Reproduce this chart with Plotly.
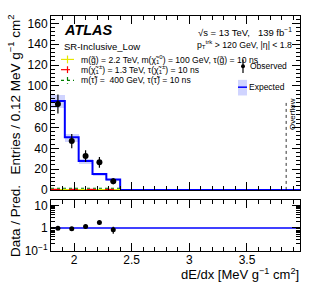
import plotly.graph_objects as go
import numpy as np

# ---- data ----
x_start = 1.8
bin_width = 0.12
n_bins = 18
expected = [85.4, 50.5, 27.7, 15.3, 10.0] + [0.0] * 13
exp_err = [6.0, 4.0, 2.0, 1.5, 1.0] + [0.0] * 13
observed = [82.6, 47.0, 32.5, 26.5, 8.4]
sig_gluino = [0.2, 0.2, 0.2, 0.2, 0.2]
sig_chargino = [0.5, 0.5, 0.5, 0.5, 0.5]
sig_stau = [1.6, 1.6, 1.6, 1.6, 1.6]
overflow_edge = 3.84

edges = [x_start + bin_width * i for i in range(n_bins + 1)]
centers = [x_start + bin_width * (i + 0.5) for i in range(n_bins)]

FONT = "Liberation Sans, Arial, Helvetica, sans-serif"
W, H = 316, 306
def px(x):
    return x / W
def py(y):
    return 1 - y / H

fig = go.Figure()

# expected uncertainty band
fig.add_trace(go.Bar(x=centers, y=[2 * e for e in exp_err],
                     base=[v - e for v, e in zip(expected, exp_err)],
                     width=bin_width, marker=dict(color="rgba(150,160,255,0.45)", line=dict(width=0)),
                     xaxis="x", yaxis="y", showlegend=False, hoverinfo="skip"))

# expected step line
fig.add_trace(go.Scatter(x=edges, y=expected + [expected[-1]], mode="lines",
                         line=dict(color="#0000ff", width=2, shape="hv"),
                         xaxis="x", yaxis="y", showlegend=False))

def step(vals):
    xs = edges[:len(vals) + 1]
    return xs, vals + [vals[-1]]

xs, ys = step(sig_gluino)
fig.add_trace(go.Scatter(x=xs, y=ys, mode="lines", line=dict(color="#e6e600", width=1.2, shape="hv"),
                         xaxis="x", yaxis="y", showlegend=False))
xs, ys = step(sig_chargino)
fig.add_trace(go.Scatter(x=xs, y=ys, mode="lines", line=dict(color="#ff0000", width=1.2, dash="dash", shape="hv"),
                         xaxis="x", yaxis="y", showlegend=False))
xs, ys = step(sig_stau)
fig.add_trace(go.Scatter(x=xs, y=ys, mode="lines", line=dict(color="#008000", width=1.2, dash="dot", shape="hv"),
                         xaxis="x", yaxis="y", showlegend=False))

# observed
obs_x = centers[:len(observed)]
fig.add_trace(go.Scatter(x=obs_x, y=observed, mode="markers",
                         marker=dict(color="black", size=6),
                         error_y=dict(type="data", array=list(np.sqrt(observed)), color="black", thickness=1.2, width=0),
                         xaxis="x", yaxis="y", showlegend=False))

# ratio
ratio = [o / e for o, e in zip(observed, expected)]
ratio_err = [np.sqrt(o) / e for o, e in zip(observed, expected)]
fig.add_trace(go.Scatter(x=[edges[0], edges[-1]], y=[1, 1], mode="lines",
                         line=dict(color="#0000ff", width=1.5), xaxis="x2", yaxis="y2", showlegend=False))
fig.add_trace(go.Scatter(x=obs_x, y=ratio, mode="markers",
                         marker=dict(color="black", size=5),
                         error_y=dict(type="data", array=ratio_err, color="black", thickness=1.2, width=0),
                         xaxis="x2", yaxis="y2", showlegend=False))

# overflow line
fig.add_shape(type="line", x0=overflow_edge, x1=overflow_edge, y0=0, y1=84, xref="x", yref="y",
              line=dict(color="black", width=0.8, dash="dot"))

dom_x = [px(51), px(300)]
tickfont = dict(family=FONT, size=12, color="black")
common_x = dict(range=[edges[0], edges[-1]], showline=True, linecolor="black", linewidth=1, mirror="allticks",
                ticks="inside", ticklen=8, tickcolor="black", dtick=0.5, tick0=2.0, showgrid=False, zeroline=False,
                minor=dict(ticks="inside", ticklen=4, dtick=0.1, tick0=1.8, tickcolor="black"),
                domain=dom_x)

fig.update_layout(
    width=W, height=H, margin=dict(l=0, r=0, t=0, b=0),
    paper_bgcolor="white", plot_bgcolor="white", bargap=0,
    xaxis=dict(**common_x, showticklabels=False, anchor="y"),
    yaxis=dict(domain=[py(194), py(15)], range=[0, 167.5], showline=True, linecolor="black", linewidth=1,
               mirror="allticks", ticks="inside", ticklen=8, dtick=20, tickcolor="black", showgrid=False, zeroline=False,
               minor=dict(ticks="inside", ticklen=4, dtick=4, tickcolor="black"),
               tickfont=tickfont, anchor="x"),
    xaxis2=dict(**common_x, showticklabels=True, tickfont=tickfont, anchor="y2", ticklabelstandoff=-3),
    yaxis2=dict(domain=[py(257), py(204)], type="log", range=[-1.04, 1.26], showline=True, linecolor="black",
                linewidth=1, mirror="allticks", ticks="inside", ticklen=8, tickcolor="black", showgrid=False,
                zeroline=False, tickvals=[0.1, 1, 10], ticktext=["10<sup>−1</sup>", "1", "10"],
                minor=dict(ticks="inside", ticklen=4, tickcolor="black",
                           tickvals=[0.2, 0.3, 0.4, 0.5, 0.6, 0.7, 0.8, 0.9, 2, 3, 4, 5, 6, 7, 8, 9]),
                tickfont=tickfont, anchor="x2"),
)

ann = []
def add_text(x, y, text, size, xanchor="left", yanchor="middle", angle=0, color="black", family=FONT):
    ann.append(dict(x=px(x), y=py(y), xref="paper", yref="paper", text=text, showarrow=False,
                    xanchor=xanchor, yanchor=yanchor, textangle=angle,
                    font=dict(family=family, size=size, color=color)))

add_text(62, 30, "<b><i>ATLAS</i></b>", 14.5)
add_text(62, 47, "SR-Inclusive_Low", 9.5)
add_text(294, 32, "√s = 13 TeV,   139 fb<sup>−1</sup>", 9.5, xanchor="right")
add_text(294, 44, "p<sub>T</sub><sup>trk</sup> > 120 GeV, |η| < 1.8", 8.7, xanchor="right")
add_text(248, 67, "Observed", 8.5)
add_text(247, 88, "Expected", 8.5)
add_text(79, 60, "m(g̃) = 2.2 TeV, m(χ̃<sub>1</sub><sup>0</sup>) = 100 GeV, τ(g̃) = 10 ns", 8.6)
add_text(79, 70.5, "m(χ̃<sub>1</sub><sup>±</sup>) = 1.3 TeV, τ(χ̃<sub>1</sub><sup>±</sup>) = 10 ns", 8.6)
add_text(79, 81.5, "m(τ̃) =  400 GeV, τ(τ̃) = 10 ns", 8.6)
add_text(293, 116, "Overflow", 8, xanchor="center", angle=-90)
add_text(15, 96, "Entries / 0.12 MeV g<sup>−1</sup> cm<sup>2</sup>", 13.5, xanchor="center", angle=-90)
add_text(15, 226, "Data / Pred.", 13.5, xanchor="center", angle=-90)
add_text(301, 280, "dE/dx [MeV g<sup>−1</sup> cm<sup>2</sup>]", 13, xanchor="right")
fig.update_layout(annotations=ann)

# legend symbols (paper coords)
def pline(x0, y0, x1, y1, color, width=1.2, dash="solid"):
    fig.add_shape(type="line", xref="paper", yref="paper", x0=px(x0), y0=py(y0), x1=px(x1), y1=py(y1),
                  line=dict(color=color, width=width, dash=dash))

pline(61, 60, 74, 60, "#e6e600")
pline(67.5, 56, 67.5, 64, "#e6e600")
pline(61, 70.5, 74, 70.5, "#ff0000", dash="dash")
pline(67.5, 67, 67.5, 74, "#ff0000", dash="dash")
pline(61, 81.5, 74, 81.5, "#008000", dash="dot")
pline(67.5, 78, 67.5, 85, "#008000", dash="dot")
# observed marker
pline(243, 60, 243, 74, "black", width=1.2)
fig.add_shape(type="circle", xref="paper", yref="paper", x0=px(241), x1=px(245), y0=py(65), y1=py(69),
              fillcolor="black", line=dict(color="black", width=0))
# expected box
fig.add_shape(type="rect", xref="paper", yref="paper", x0=px(238), x1=px(247), y0=py(97), y1=py(81),
              fillcolor="rgba(150,160,255,0.45)", line=dict(width=0))
pline(238, 88.5, 247, 88.5, "#0000ff", width=1.5)

fig.write_html("out.html", config={"displayModeBar": False},
               post_script="document.body.style.margin='0';document.body.style.overflow='hidden';")
